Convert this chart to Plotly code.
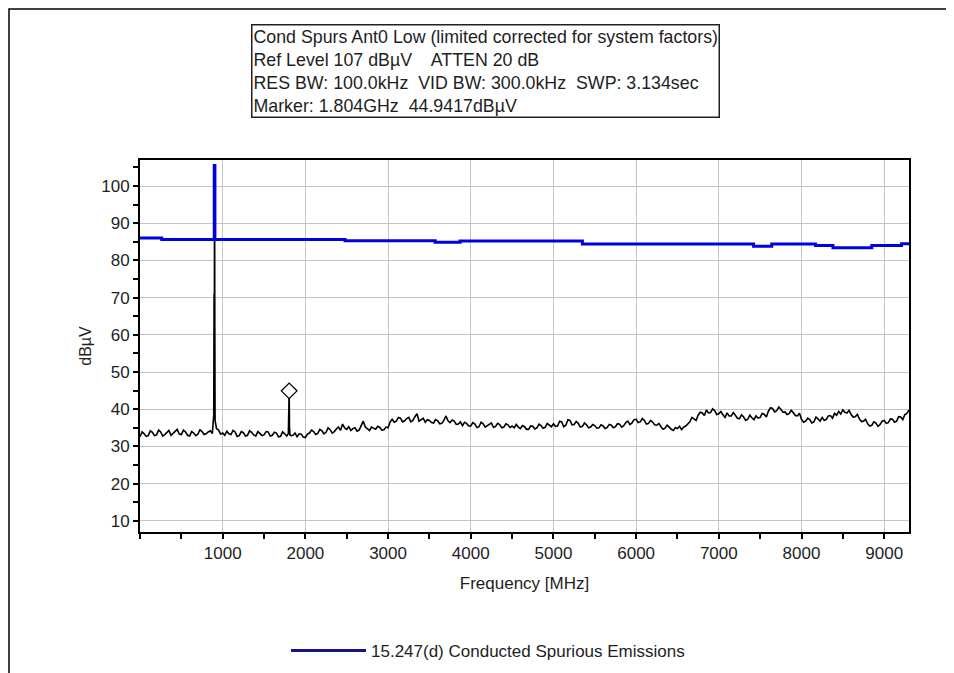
import plotly.graph_objects as go

# ---------------- data ----------------
# measured trace, read every 50 MHz (dBµV)
noise_freq = list(range(0, 9301, 50))
noise_level = [
    32.6, 33.4, 32.9, 33.8, 33.1, 33.9, 33.2, 34.3, 33.5, 34.6,   # 0-450
    33.2, 33.9, 32.8, 33.6, 33.3, 34.0, 33.4, 34.2, 35.0, 34.4,   # 500-950
    33.6, 34.1, 33.2, 33.9, 32.9, 33.7, 33.0, 33.8, 32.8, 33.5,   # 1000-1450
    33.1, 33.9, 33.0, 33.6, 32.7, 33.4, 33.2, 33.0, 32.6, 33.3,   # 1500-1950
    32.4, 33.6, 34.0, 33.5, 34.2, 33.8, 34.5, 34.0, 35.2, 36.0,   # 2000-2450
    34.6, 34.3, 35.0, 34.4, 36.8, 34.8, 35.2, 34.6, 35.1, 34.5,   # 2500-2950
    35.0, 37.3, 36.8, 37.6, 36.9, 37.8, 37.0, 38.8, 37.2, 36.5,   # 3000-3450
    37.0, 36.3, 36.9, 36.2, 38.2, 36.4, 36.8, 36.0, 35.6, 36.2,   # 3500-3950
    35.5, 36.0, 35.3, 36.1, 35.6, 36.3, 35.4, 35.9, 35.2, 35.8,   # 4000-4450
    35.5, 35.9, 34.8, 35.3, 34.6, 35.4, 35.0, 35.6, 35.1, 35.8,   # 4500-4950
    36.1, 35.5, 36.6, 35.7, 37.0, 35.9, 36.2, 35.4, 35.8, 35.2,   # 5000-5450
    35.6, 35.0, 35.5, 35.1, 35.7, 35.3, 36.0, 35.6, 36.8, 36.3,   # 5500-5950
    37.3, 36.6, 37.0, 36.2, 36.5, 35.7, 35.3, 34.9, 35.2, 34.3,   # 6000-6450
    34.8, 34.5, 35.5, 36.6, 37.4, 38.4, 39.0, 39.8, 39.1, 39.6,   # 6500-6950
    38.8, 38.5, 39.0, 38.2, 38.4, 37.5, 37.9, 37.3, 37.7, 38.2,   # 7000-7450
    37.8, 38.6, 39.5, 40.2, 39.6, 40.0, 39.3, 38.8, 39.1, 38.2,   # 7500-7950
    37.3, 36.8, 37.2, 36.6, 37.4, 37.8, 37.3, 38.3, 38.9, 39.4,   # 8000-8450
    39.8, 39.0, 38.6, 38.0, 37.4, 36.8, 36.1, 35.7, 36.3, 35.9,   # 8500-8950
    37.0, 36.4, 37.3, 36.8, 37.9, 38.6, 39.8,                     # 9000-9300
]
# the same trace read in between (25, 75, ... 9275 MHz)
noise_mid_freq = list(range(25, 9300, 50))
noise_mid_level = [
    33.9, 32.7, 34.2, 32.9, 34.4, 32.8, 33.9, 33.0, 34.1, 33.3,   # 25-475
    34.4, 33.0, 34.0, 32.9, 34.5, 33.2, 33.9, 33.5, 34.8, 33.3,   # 525-975
    33.0, 33.4, 34.3, 32.7, 34.0, 32.8, 34.2, 33.1, 34.0, 32.9,   # 1025-1475
    34.0, 32.8, 33.8, 32.6, 33.9, 32.8, 32.9, 33.6, 33.4, 32.5,   # 1525-1975
    33.3, 34.4, 33.2, 34.6, 33.4, 35.0, 33.6, 34.7, 34.3, 35.0,   # 2025-2475
    35.3, 34.8, 34.1, 35.6, 35.2, 34.3, 34.9, 35.4, 34.4, 35.2,   # 2525-2975
    36.6, 36.5, 37.8, 36.6, 37.5, 36.6, 38.0, 36.8, 37.6, 37.2,   # 3025-3475
    36.4, 37.2, 36.1, 37.0, 36.9, 37.1, 35.9, 36.6, 36.5, 35.5,   # 3525-3975
    36.4, 35.1, 36.5, 35.2, 36.0, 35.1, 36.2, 35.0, 36.1, 35.1,   # 4025-4475
    35.0, 35.2, 35.6, 34.6, 35.5, 34.7, 36.0, 34.9, 36.2, 35.3,   # 4525-4975
    35.4, 36.8, 35.3, 37.2, 35.8, 36.7, 35.2, 36.3, 35.0, 35.9,   # 5025-5475
    34.9, 35.8, 34.8, 35.9, 35.0, 36.1, 35.2, 36.4, 35.9, 37.2,   # 5525-5975
    36.4, 37.5, 36.0, 37.0, 35.8, 36.2, 34.6, 35.7, 34.6, 35.1,   # 6025-6475
    35.4, 35.2, 36.1, 37.8, 37.0, 39.2, 38.3, 39.0, 40.1, 38.6,   # 6525-6975
    39.4, 37.8, 38.2, 39.1, 37.6, 38.5, 37.0, 38.4, 37.2, 37.6,   # 7025-7475
    38.9, 37.9, 40.4, 39.3, 40.6, 39.2, 38.6, 39.7, 38.3, 38.9,   # 7525-7975
    36.5, 37.6, 36.3, 37.9, 36.8, 37.0, 38.2, 37.6, 38.4, 38.7,   # 8025-8475
    39.2, 39.7, 37.9, 38.6, 36.7, 37.3, 35.5, 36.6, 35.4, 36.8,   # 8525-8975
    36.2, 37.4, 36.5, 38.0, 37.2, 38.9,                           # 9025-9275
]

# fundamental (902 MHz) and 2nd harmonic (1804 MHz) spikes of the trace
spike_freq = [885, 892, 896, 898, 900, 902, 904, 908, 915,
              1794, 1800, 1804, 1808, 1814]
spike_level = [35.5, 38.5, 71.0, 39.0, 71.0, 105.5, 70.5, 37.0, 35.2,
               33.4, 40.0, 44.9, 35.0, 33.1]

# limit line (step levels, dBµV)
limit_freq = [0, 263, 898, 906, 2480, 3570, 3870, 5350, 7420, 7640,
              8170, 8380, 8850, 9210, 9300]
limit_level = [86.0, 85.6, 105.5, 85.6, 85.3, 84.9, 85.2, 84.4, 83.8, 84.4,
               84.0, 83.4, 84.0, 84.5, 84.5]

# marker
marker_freq = [1804]
marker_level = [44.9417]

x_tick_vals = [1000, 2000, 3000, 4000, 5000, 6000, 7000, 8000, 9000]
y_tick_vals = [10, 20, 30, 40, 50, 60, 70, 80, 90, 100]

info_lines = [
    "Cond Spurs Ant0 Low (limited corrected for system factors)",
    "Ref Level 107 dBµV    ATTEN 20 dB",
    "RES BW: 100.0kHz  VID BW: 300.0kHz  SWP: 3.134sec",
    "Marker: 1.804GHz  44.9417dBµV",
]
legend_name = "15.247(d) Conducted Spurious Emissions"

# ---------------- merge the readings into one trace ----------------
pts = list(zip(noise_freq, noise_level)) + list(zip(noise_mid_freq, noise_mid_level))
pts = [(f, v) for f, v in pts if all(abs(f - s) > 12 for s in (902, 1804))]
pts += list(zip(spike_freq, spike_level))
pts.sort()
trace_x = [p[0] for p in pts]
trace_y = [p[1] for p in pts]

FONT = "Liberation Sans, Arial, sans-serif"
TXT = "#1e1e1e"

fig = go.Figure()

fig.add_trace(go.Scatter(
    x=trace_x, y=trace_y, mode="lines",
    line=dict(color="black", width=1.6),
    showlegend=False, hoverinfo="skip"))

fig.add_trace(go.Scatter(
    x=limit_freq, y=limit_level, mode="lines",
    line=dict(color="rgb(0,0,225)", width=3, shape="hv"),
    showlegend=False))

fig.add_trace(go.Scatter(
    x=marker_freq, y=marker_level, mode="markers",
    marker=dict(symbol="diamond", size=12, color="white",
                line=dict(color="black", width=1.3)),
    showlegend=False))

# legend entry (the legend shows a dark navy sample line)
fig.add_trace(go.Scatter(
    x=[None], y=[None], mode="lines",
    line=dict(color="rgb(20,20,135)", width=3),
    name=legend_name, showlegend=True))

# page body has an 8px margin -> figure coords = picture coords - 8
OFF = 8
W, H = 954, 673
L, R_EDGE, T, B_EDGE = 140 - OFF, 909 - OFF, 160 - OFF, 532 - OFF
pw, ph = R_EDGE - L, B_EDGE - T


def px_x(p):
    return (p - OFF - L) / pw


def px_y(p):
    return (B_EDGE - (p - OFF)) / ph


fig.update_layout(
    width=W, height=H,
    margin=dict(l=L, r=W - R_EDGE, t=T, b=H - B_EDGE, pad=0, autoexpand=False),
    paper_bgcolor="white", plot_bgcolor="white",
    font=dict(family=FONT, size=17, color=TXT),
    showlegend=True,
    legend=dict(orientation="h", x=px_x(286), y=px_y(651),
                xanchor="left", yanchor="middle",
                font=dict(family=FONT, size=17, color=TXT),
                bgcolor="rgba(0,0,0,0)", itemwidth=75),
)

fig.update_xaxes(
    range=[0.009, 9300], automargin=False,
    tickmode="array", tickvals=x_tick_vals,
    ticks="outside", ticklen=5, tickwidth=1.5, tickcolor="black",
    minor=dict(tick0=0, dtick=500, ticks="outside", ticklen=5,
               tickwidth=1.5, tickcolor="black", showgrid=False),
    showgrid=True, gridcolor="#c4c4c4", gridwidth=1,
    showline=True, linecolor="black", linewidth=2, mirror=True,
    zeroline=False,
    tickfont=dict(family=FONT, size=17, color=TXT),
    title=dict(text="Frequency [MHz]", standoff=15,
               font=dict(family=FONT, size=17, color=TXT)),
)

fig.update_yaxes(
    range=[7, 107], automargin=False,
    tickmode="array", tickvals=y_tick_vals,
    ticks="outside", ticklen=5, tickwidth=1.5, tickcolor="black",
    minor=dict(tick0=0, dtick=5, ticks="outside", ticklen=5,
               tickwidth=1.5, tickcolor="black", showgrid=False),
    showgrid=True, gridcolor="#c4c4c4", gridwidth=1,
    showline=True, linecolor="black", linewidth=2, mirror=True,
    zeroline=False,
    tickfont=dict(family=FONT, size=17, color=TXT),
    title=dict(text="dBµV", standoff=6,
               font=dict(family=FONT, size=16, color=TXT)),
)

# info box above the plot
fig.add_annotation(
    xref="paper", yref="paper", x=px_x(251), y=px_y(24),
    xanchor="left", yanchor="top", align="left", showarrow=False,
    text="<br>".join(info_lines),
    font=dict(family=FONT, size=17.8, color=TXT),
    bgcolor="white", bordercolor="#202020", borderwidth=1.5, borderpad=1,
)

# outer frame of the picture (as close to the top-left corner as the page allows)
fig.add_shape(type="rect", xref="paper", yref="paper",
              x0=px_x(OFF + 1), x1=px_x(950), y0=px_y(760), y1=px_y(OFF + 1),
              line=dict(color="black", width=1.5), layer="below")

fig.write_html("out.html")
